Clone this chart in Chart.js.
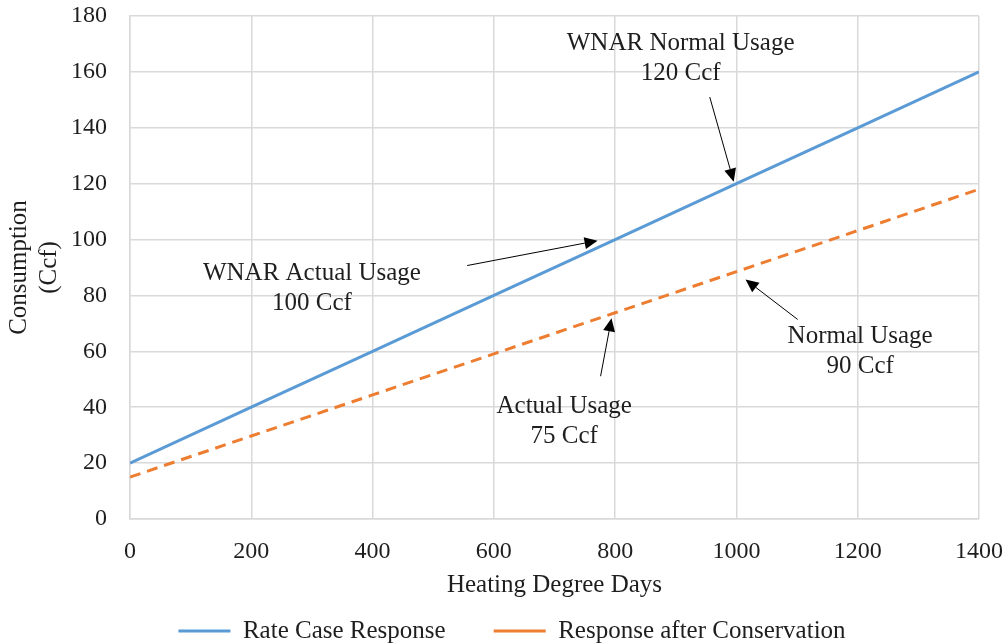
<!DOCTYPE html>
<html><head><meta charset="utf-8">
<script src="https://cdn.jsdelivr.net/npm/chart.js@4/dist/chart.umd.min.js"></script>
<style>html,body{margin:0;padding:0;background:#fff;} #wrap{width:1008px;height:644px;}</style>
</head><body><div id="wrap"><canvas id="c" width="1008" height="644"></canvas></div>
<script>
// ---- data ----
const heatingDegreeDays = [0, 200, 400, 600, 800, 1000, 1200, 1400];
const rateCaseResponse = [20, 40, 60, 80, 100, 120, 140, 160];
const responseAfterConservation = [15, 29.7, 44.4, 59.1, 73.8, 88.5, 103.2, 118];
const seriesNames = ['Rate Case Response', 'Response after Conservation'];
const xTickValues = [0, 200, 400, 600, 800, 1000, 1200, 1400];
const yTickValues = [0, 20, 40, 60, 80, 100, 120, 140, 160, 180];
const xTitle = 'Heating Degree Days';
const yTitle = ['Consumption', '(Ccf)'];
const noteTitles = ['WNAR Normal Usage', 'WNAR Actual Usage', 'Actual Usage', 'Normal Usage'];
const noteValues = ['120 Ccf', '100 Ccf', '75 Ccf', '90 Ccf'];

// annotation anchors (data coordinates)
const notes = [
  {text: 0, tx: 908, ty: 171, from: [956, 151], to: [995.5, 120.7]},
  {text: 1, tx: 300, ty: 88.6, from: [556, 90.7], to: [771, 99.6]},
  {text: 2, tx: 716, ty: 41, from: [776, 51.1], to: [794, 71.8]},
  {text: 3, tx: 1204, ty: 66, from: [1101, 71.4], to: [1015, 85.7]}
];

const FONT = '"Liberation Serif", "Times New Roman", serif';
const TEXT = '#1e1e1e';
const GRID = '#d9d9d9';
Chart.defaults.font.family = FONT;
Chart.defaults.color = TEXT;

const notePlugin = {
  id: 'notes',
  afterDraw(chart) {
    const {ctx, scales: {x, y}} = chart;
    ctx.save();
    ctx.font = '25px ' + FONT;
    ctx.textAlign = 'center';
    ctx.textBaseline = 'middle';
    notes.forEach(n => {
      const px = x.getPixelForValue(n.tx), py = y.getPixelForValue(n.ty) + 2;
      ctx.fillStyle = TEXT;
      ctx.fillText(noteTitles[n.text], px, py);
      ctx.fillText(noteValues[n.text], px, py + 30);
      const x0 = x.getPixelForValue(n.from[0]), y0 = y.getPixelForValue(n.from[1]);
      const x1 = x.getPixelForValue(n.to[0]), y1 = y.getPixelForValue(n.to[1]);
      const dx = x1 - x0, dy = y1 - y0, len = Math.hypot(dx, dy);
      const ux = dx / len, uy = dy / len;
      const hl = 13, hw = 6;
      const bx = x1 - ux * hl, by = y1 - uy * hl;
      ctx.strokeStyle = '#000';
      ctx.lineWidth = 1;
      ctx.beginPath();
      ctx.moveTo(x0, y0);
      ctx.lineTo(bx, by);
      ctx.stroke();
      ctx.fillStyle = '#000';
      ctx.beginPath();
      ctx.moveTo(x1, y1);
      ctx.lineTo(bx - uy * hw, by + ux * hw);
      ctx.lineTo(bx + uy * hw, by - ux * hw);
      ctx.closePath();
      ctx.fill();
    });
    ctx.restore();
  }
};

new Chart(document.getElementById('c'), {
  type: 'line',
  data: {
    datasets: [
      {
        label: seriesNames[0],
        data: heatingDegreeDays.map((v, i) => ({x: v, y: rateCaseResponse[i]})),
        borderColor: '#5B9BD5',
        backgroundColor: '#5B9BD5',
        borderWidth: 3,
        pointRadius: 0,
        fill: false,
        tension: 0
      },
      {
        label: seriesNames[1],
        data: heatingDegreeDays.map((v, i) => ({x: v, y: responseAfterConservation[i]})),
        borderColor: '#ED7D31',
        backgroundColor: '#ED7D31',
        borderWidth: 3,
        borderDash: [11, 7],
        pointRadius: 0,
        fill: false,
        tension: 0
      }
    ]
  },
  options: {
    responsive: false,
    animation: false,
    devicePixelRatio: 1,
    layout: {padding: {top: 16, right: 29, bottom: -9.5, left: 45}},
    plugins: {
      tooltip: {enabled: false},
      legend: {
        position: 'bottom',
        labels: {
          usePointStyle: true,
          pointStyle: 'line',
          pointStyleWidth: 52,
          padding: 48,
          font: {size: 25},
          color: TEXT
        }
      }
    },
    scales: {
      x: {
        type: 'linear',
        min: 0,
        max: 1400,
        afterBuildTicks: s => { s.ticks = xTickValues.map(v => ({value: v})); },
        afterFit: s => { s.height = 51.5; },
        ticks: {font: {size: 24}, color: TEXT, padding: 0, maxRotation: 0, autoSkip: false, callback: v => String(v)},
        grid: {color: GRID, lineWidth: 1.5, drawTicks: true, tickLength: 18, tickColor: 'rgba(0,0,0,0)'},
        border: {color: GRID, width: 1.5},
        title: {display: true, text: xTitle, font: {size: 25}, color: TEXT, padding: {top: 0, bottom: -29.5}}
      },
      y: {
        type: 'linear',
        min: 0,
        max: 180,
        afterBuildTicks: s => { s.ticks = yTickValues.map(v => ({value: v})); },
        afterFit: s => { s.width = 85; },
        ticks: {font: {size: 24}, color: TEXT, padding: 0, callback: v => String(v)},
        grid: {color: GRID, lineWidth: 1.5, drawTicks: true, tickLength: 23, tickColor: 'rgba(0,0,0,0)'},
        border: {color: GRID, width: 1.5},
        title: {display: true, text: yTitle, font: {size: 25}, color: TEXT, padding: {top: -41, bottom: 0}}
      }
    }
  },
  plugins: [notePlugin]
});
</script>
</body></html>
